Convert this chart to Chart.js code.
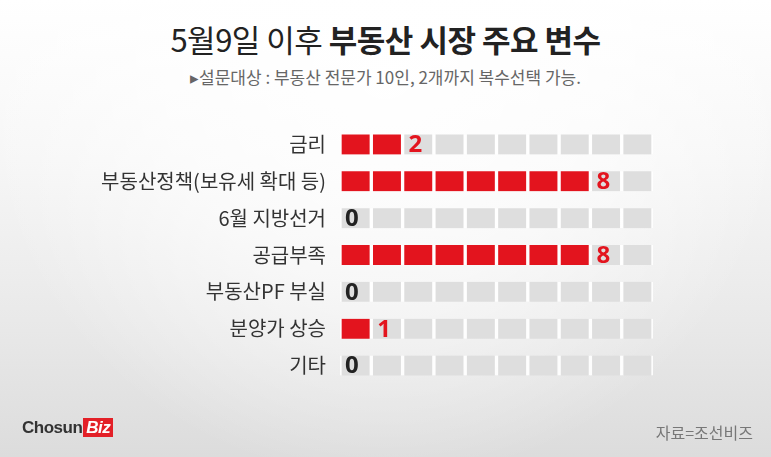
<!DOCTYPE html><html><head><meta charset="utf-8">
<script src="https://cdn.jsdelivr.net/npm/chart.js"></script>
<style>
html,body{margin:0;padding:0;}
#wrap{position:relative;width:771px;height:457px;overflow:hidden;font-family:"Noto Sans CJK KR","Noto Sans",sans-serif;
background:linear-gradient(180deg,#ffffff 0%,#f6f6f6 35%,#e9e9e9 70%,#dcdcdc 100%);}
#wrap:before{content:"";position:absolute;left:0;right:0;top:0;bottom:0;
background:radial-gradient(ellipse at 50% 15%,rgba(255,255,255,0.95) 0%,rgba(255,255,255,0.6) 40%,rgba(255,255,255,0) 75%);}
#title{position:absolute;top:16px;left:0;width:771px;text-align:center;font-size:31px;color:#222;letter-spacing:-0.5px;}
#sub{position:absolute;top:64px;left:0;width:771px;text-align:center;font-size:17px;color:#666;}
#logo{position:absolute;left:22px;top:418px;font-family:"Liberation Sans",Arial,sans-serif;font-weight:bold;font-size:17px;color:#333;letter-spacing:-0.5px;}
#logo span{background:#e32027;color:#fff;padding:0 3px;margin-left:1px;font-style:italic;}
#src{position:absolute;right:18px;top:420px;font-size:16px;color:#777;}
canvas{position:absolute;left:0;top:0;}
</style></head><body>
<div id="wrap">
<div id="title">5월9일 이후 <b>부동산 시장 주요 변수</b></div>
<div id="sub">▸설문대상 : 부동산 전문가 10인, 2개까지 복수선택 가능.</div>
<canvas id="c" width="771" height="457"></canvas>
<div id="logo">Chosun<span>Biz</span></div>
<div id="src">자료=조선비즈</div>
</div>
<script>
const categories=["금리","부동산정책(보유세 확대 등)","6월 지방선거","공급부족","부동산PF 부실","분양가 상승","기타"];
const values=[2,8,0,8,0,1,0];
const totalCells=10;
const RED="#e3141e",GRAY="#dedede";
const datasets=[];
for(let i=0;i<totalCells;i++){
  datasets.push({data:categories.map(()=>1),
    backgroundColor:values.map(v=>i<v?RED:GRAY),
    borderColor:"rgba(255,255,255,0.9)",borderWidth:{left:2,right:2,top:0,bottom:0},borderSkipped:false,
    barThickness:20});
}
const valPlugin={id:"vals",afterDatasetsDraw(ch){
  const ctx=ch.ctx,x=ch.scales.x,y=ch.scales.y;
  ctx.save();ctx.font="bold 24px 'Noto Sans','Liberation Sans',sans-serif";
  ctx.textBaseline="middle";ctx.textAlign="left";
  values.forEach((v,i)=>{ctx.fillStyle=v===0?"#222":RED;ctx.fillText(String(v),x.getPixelForValue(v)+(v===0?5:6),y.getPixelForValue(i)+1);});
  ctx.restore();}};
new Chart(document.getElementById("c"),{type:"bar",data:{labels:categories,datasets},
options:{indexAxis:"y",responsive:false,animation:false,
layout:{padding:{left:0,right:118,top:126,bottom:73}},
plugins:{legend:{display:false},tooltip:{enabled:false}},
scales:{x:{stacked:true,min:0,max:totalCells,display:false},
y:{stacked:true,grid:{display:false},border:{display:false},afterFit(s){s.width=340;},
ticks:{color:"#333",padding:6,font:{size:20,family:"'Noto Sans CJK KR',sans-serif"}}}}},
plugins:[valPlugin]});
</script></body></html>
